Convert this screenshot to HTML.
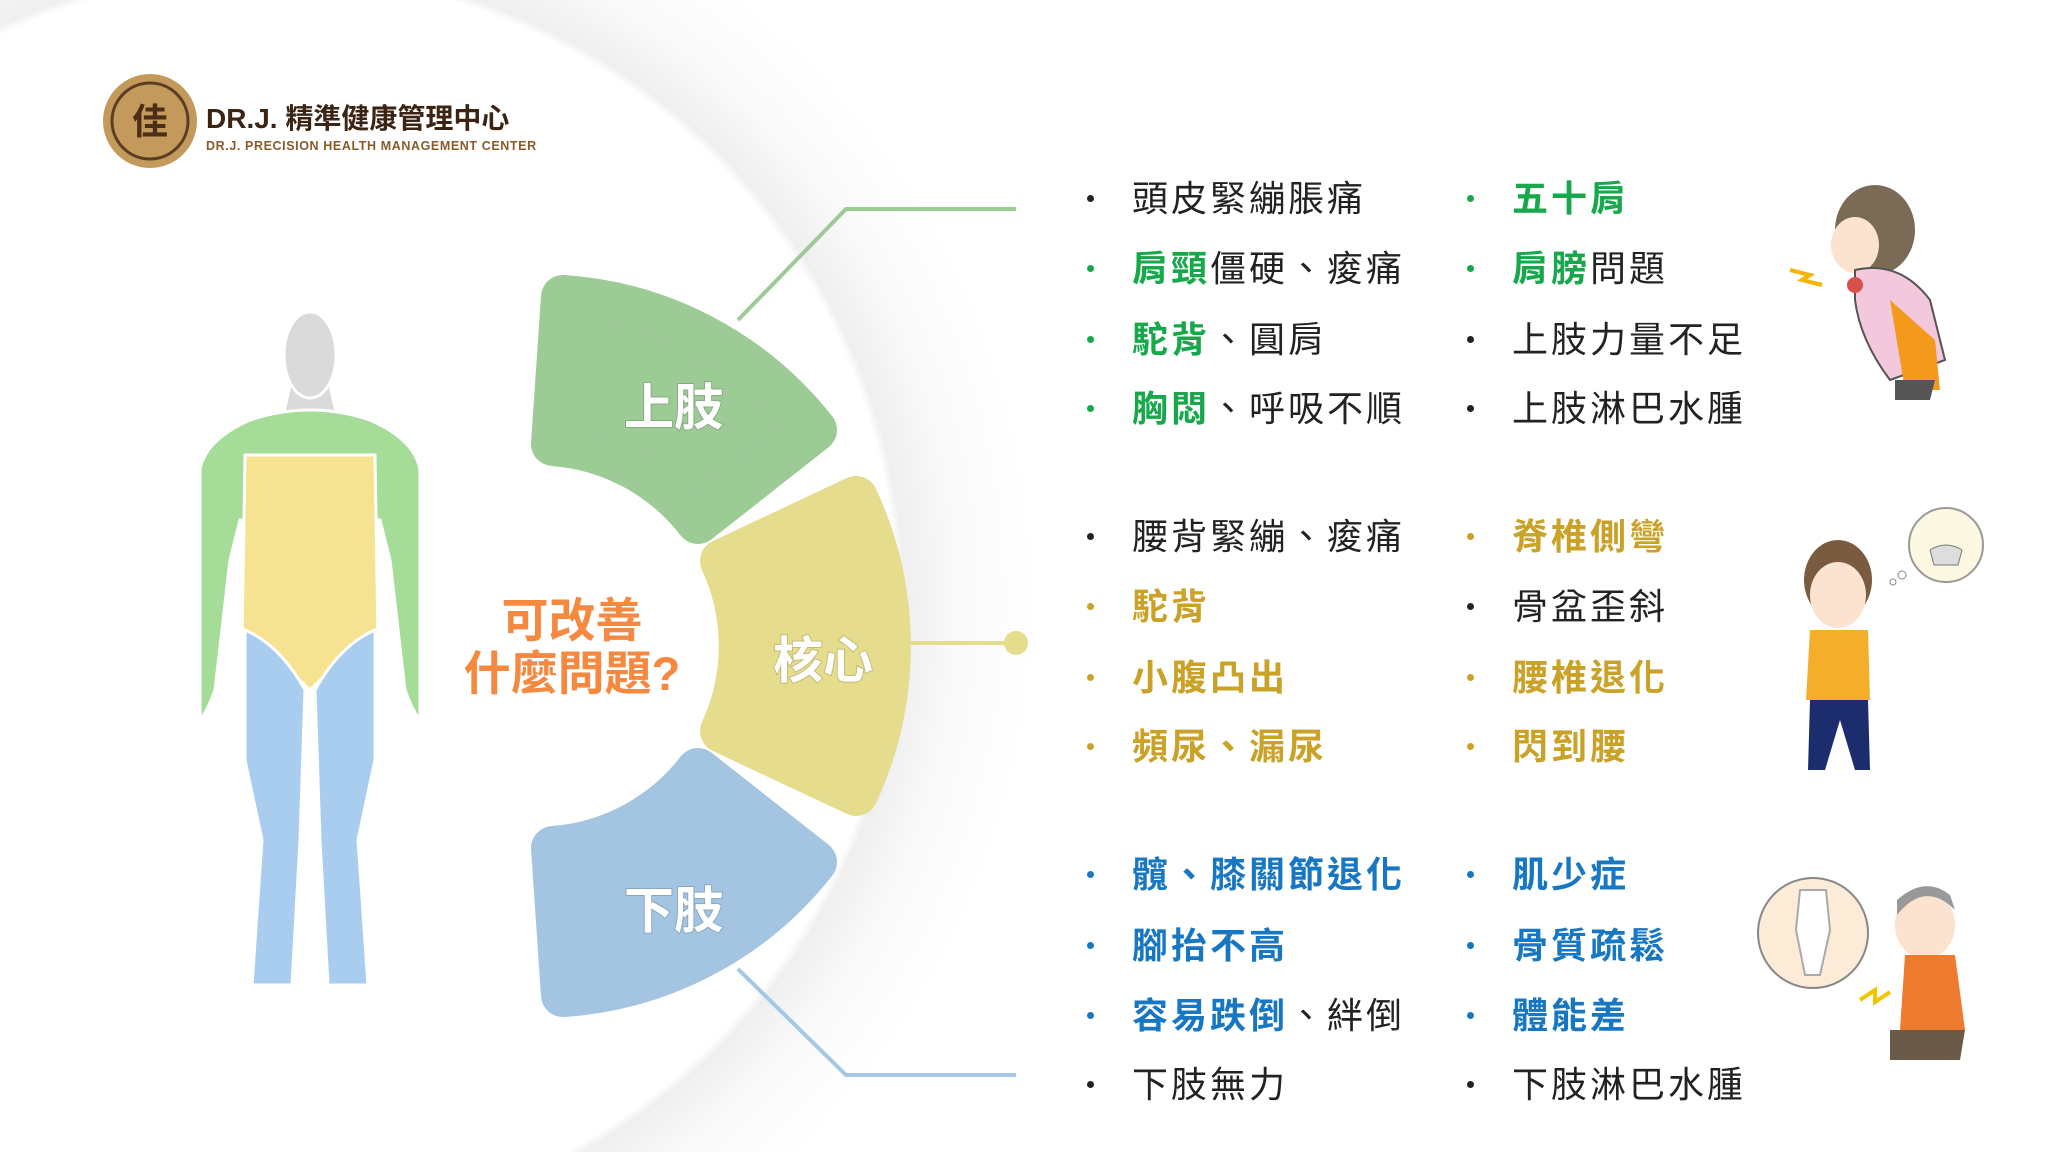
<!DOCTYPE html>
<html><head><meta charset="utf-8"><style>
html,body{margin:0;padding:0}
body{width:2048px;height:1152px;position:relative;overflow:hidden;background:#fff;font-family:"Liberation Sans","Noto Sans CJK TC",sans-serif}
.t{position:absolute;font-size:36px;letter-spacing:3px;white-space:nowrap;line-height:1;color:#222}
.b{position:absolute;width:7px;height:7px;border-radius:50%}
.g{color:#16a84a;font-weight:bold}.y{color:#c9a227;font-weight:bold}.u{color:#1877c2;font-weight:bold}
</style></head><body>
<svg width="2048" height="1152" style="position:absolute;left:0;top:0">
<defs>
<radialGradient id="bg" cx="270" cy="600" r="900" gradientUnits="userSpaceOnUse">
<stop offset="0.695" stop-color="#fff"/><stop offset="0.705" stop-color="#efefef"/><stop offset="0.76" stop-color="#f9f9f9"/><stop offset="0.85" stop-color="#fff"/>
</radialGradient>
</defs>
<rect width="2048" height="1152" fill="url(#bg)"/>
<!-- connectors -->
<polyline points="738,320 846,209 1016,209" fill="none" stroke="#9dcb96" stroke-width="4"/>
<line x1="905" y1="643" x2="1016" y2="643" stroke="#e6dc8e" stroke-width="4"/>
<circle cx="1016" cy="643" r="12" fill="#e6dc8e"/>
<polyline points="738,969 846,1075 1016,1075" fill="none" stroke="#a5c8e4" stroke-width="4"/>
<!-- segments -->
<g stroke-linejoin="round" stroke-width="44">
<path d="M563,297 A350,350 0 0 1 815,430 L698,522 A202,202 0 0 0 553,444 Z" fill="#9dcb96" stroke="#9dcb96"/>
<path d="M722,561 L856,498 A350,350 0 0 1 856,794 L722,731 A202,202 0 0 0 722,561 Z" fill="#e6dc8e" stroke="#e6dc8e"/>
<path d="M563,995 A350,350 0 0 0 815,862 L698,770 A202,202 0 0 1 553,848 Z" fill="#a3c5e2" stroke="#a3c5e2"/>
</g>
<g font-family="Liberation Sans,Noto Sans CJK TC,sans-serif" font-weight="bold" font-size="50" fill="#fff" text-anchor="middle" style="paint-order:stroke" stroke="rgba(0,0,0,0.15)" stroke-width="2">
<text x="674" y="425">上肢</text><text x="823" y="678">核心</text><text x="674" y="928">下肢</text>
</g>
<g font-family="Liberation Sans,Noto Sans CJK TC,sans-serif" font-weight="bold" font-size="47" fill="#f5893f" text-anchor="middle">
<text x="572" y="637">可改善</text><text x="572" y="690">什麼問題?</text>
</g>
<!-- logo -->
<circle cx="150" cy="121" r="47" fill="#c49a5c"/>
<circle cx="150" cy="121" r="38" fill="none" stroke="#5a3d22" stroke-width="3"/>
<text x="150" y="134" font-size="36" font-weight="bold" fill="#4a2e17" text-anchor="middle" font-family="Noto Sans CJK TC,sans-serif">佳</text>
<text x="206" y="128" font-size="28" font-weight="bold" fill="#3b2414" font-family="Liberation Sans,Noto Sans CJK TC,sans-serif">DR.J. 精準健康管理中心</text>
<text x="206" y="150" font-size="12.5" font-weight="bold" fill="#8b5a2b" font-family="Liberation Sans,sans-serif" letter-spacing="0.6">DR.J. PRECISION HEALTH MANAGEMENT CENTER</text>
<!-- body figure -->
<g stroke="#fff" stroke-width="3">
<path d="M290,385 L280,430 L340,430 L330,385 Z" fill="#dadada"/>
<ellipse cx="310" cy="355" rx="26" ry="43" fill="#dadada"/>
<path d="M250,420 Q310,400 370,420 Q415,440 420,470 L420,720 Q412,710 405,690 L390,560 L380,520 L240,520 L230,560 L215,690 Q208,710 200,720 L200,470 Q205,440 250,420 Z" fill="#a4dc98"/>
<path d="M245,455 L375,455 L378,640 Q340,660 310,690 Q280,660 242,640 Z" fill="#f5e391"/>
<path d="M245,630 Q280,645 305,690 L300,840 L292,985 L252,985 L262,840 L245,760 Z" fill="#a8cdef"/>
<path d="M375,630 Q340,645 315,690 L320,840 L328,985 L368,985 L358,840 L375,760 Z" fill="#a8cdef"/>
</g>
<!-- illustrations (simplified) -->
<g>
<ellipse cx="1875" cy="230" rx="40" ry="45" fill="#7b6a55"/>
<ellipse cx="1855" cy="245" rx="24" ry="28" fill="#fbe3cf"/>
<path d="M1855,270 Q1900,260 1930,300 L1945,360 L1890,380 Q1860,340 1855,300 Z" fill="#f4c8dc" stroke="#555" stroke-width="2"/>
<path d="M1890,300 L1905,390 L1940,390 L1935,340 Z" fill="#f39a1d"/>
<path d="M1895,380 L1895,400 L1930,400 L1935,380 Z" fill="#555"/>
<circle cx="1855" cy="285" r="8" fill="#d9504a"/>
<path d="M1790,270 l20,5 -8,5 20,5" fill="none" stroke="#f5b400" stroke-width="4"/>
<circle cx="1946" cy="545" r="37" fill="#fdf8e1" stroke="#999" stroke-width="2"/>
<path d="M1930,550 Q1946,540 1962,550 L1958,565 L1934,565 Z" fill="#ddd" stroke="#777"/>
<circle cx="1902" cy="575" r="4" fill="none" stroke="#888"/><circle cx="1893" cy="582" r="3" fill="none" stroke="#888"/>
<ellipse cx="1838" cy="580" rx="34" ry="40" fill="#7b5b3f"/>
<ellipse cx="1838" cy="595" rx="28" ry="33" fill="#fbe3cf"/>
<path d="M1810,630 L1868,630 L1870,700 L1806,700 Z" fill="#f5ae2a"/>
<path d="M1810,700 L1868,700 L1870,770 L1855,770 L1840,720 L1825,770 L1808,770 Z" fill="#1c2d6e"/>
<circle cx="1813" cy="933" r="55" fill="#fcecd7" stroke="#888" stroke-width="2"/>
<path d="M1800,890 L1826,890 L1830,930 L1820,975 L1805,975 L1796,930 Z" fill="#fff" stroke="#aaa" stroke-width="2"/>
<ellipse cx="1925" cy="925" rx="30" ry="34" fill="#fbe3cf"/>
<path d="M1897,915 Q1925,880 1955,910 L1950,895 Q1925,875 1897,900 Z" fill="#999"/>
<path d="M1905,955 L1955,955 L1965,1030 L1900,1030 Z" fill="#ee7a2e"/>
<path d="M1890,1030 L1965,1030 L1960,1060 L1890,1060 Z" fill="#6b5a48"/>
<path d="M1860,1000 l15,-10 0,12 15,-10" fill="none" stroke="#f5c400" stroke-width="4"/>
</g>
</svg>
<!-- list group 1 -->
<div class="b" style="left:1087px;top:195px;background:#222"></div><div class="t" style="left:1132px;top:181px">頭皮緊繃脹痛</div>
<div class="b" style="left:1087px;top:265px;background:#16a84a"></div><div class="t" style="left:1132px;top:251px"><span class="g">肩頸</span>僵硬、痠痛</div>
<div class="b" style="left:1087px;top:336px;background:#16a84a"></div><div class="t" style="left:1132px;top:322px"><span class="g">駝背</span>、圓肩</div>
<div class="b" style="left:1087px;top:405px;background:#16a84a"></div><div class="t" style="left:1132px;top:391px"><span class="g">胸悶</span>、呼吸不順</div>
<div class="b" style="left:1467px;top:195px;background:#16a84a"></div><div class="t g" style="left:1512px;top:181px">五十肩</div>
<div class="b" style="left:1467px;top:265px;background:#16a84a"></div><div class="t" style="left:1512px;top:251px"><span class="g">肩膀</span>問題</div>
<div class="b" style="left:1467px;top:336px;background:#222"></div><div class="t" style="left:1512px;top:322px">上肢力量不足</div>
<div class="b" style="left:1467px;top:405px;background:#222"></div><div class="t" style="left:1512px;top:391px">上肢淋巴水腫</div>
<!-- group 2 -->
<div class="b" style="left:1087px;top:533px;background:#222"></div><div class="t" style="left:1132px;top:519px">腰背緊繃、痠痛</div>
<div class="b" style="left:1087px;top:603px;background:#c9a227"></div><div class="t y" style="left:1132px;top:589px">駝背</div>
<div class="b" style="left:1087px;top:674px;background:#c9a227"></div><div class="t y" style="left:1132px;top:660px">小腹凸出</div>
<div class="b" style="left:1087px;top:743px;background:#c9a227"></div><div class="t y" style="left:1132px;top:729px">頻尿、漏尿</div>
<div class="b" style="left:1467px;top:533px;background:#c9a227"></div><div class="t y" style="left:1512px;top:519px">脊椎側彎</div>
<div class="b" style="left:1467px;top:603px;background:#222"></div><div class="t" style="left:1512px;top:589px">骨盆歪斜</div>
<div class="b" style="left:1467px;top:674px;background:#c9a227"></div><div class="t y" style="left:1512px;top:660px">腰椎退化</div>
<div class="b" style="left:1467px;top:743px;background:#c9a227"></div><div class="t y" style="left:1512px;top:729px">閃到腰</div>
<!-- group 3 -->
<div class="b" style="left:1087px;top:871px;background:#1877c2"></div><div class="t u" style="left:1132px;top:857px">髖、膝關節退化</div>
<div class="b" style="left:1087px;top:942px;background:#1877c2"></div><div class="t u" style="left:1132px;top:928px">腳抬不高</div>
<div class="b" style="left:1087px;top:1012px;background:#1877c2"></div><div class="t" style="left:1132px;top:998px"><span class="u">容易跌倒</span>、絆倒</div>
<div class="b" style="left:1087px;top:1081px;background:#222"></div><div class="t" style="left:1132px;top:1067px">下肢無力</div>
<div class="b" style="left:1467px;top:871px;background:#1877c2"></div><div class="t u" style="left:1512px;top:857px">肌少症</div>
<div class="b" style="left:1467px;top:942px;background:#1877c2"></div><div class="t u" style="left:1512px;top:928px">骨質疏鬆</div>
<div class="b" style="left:1467px;top:1012px;background:#1877c2"></div><div class="t u" style="left:1512px;top:998px">體能差</div>
<div class="b" style="left:1467px;top:1081px;background:#222"></div><div class="t" style="left:1512px;top:1067px">下肢淋巴水腫</div>
</body></html>
